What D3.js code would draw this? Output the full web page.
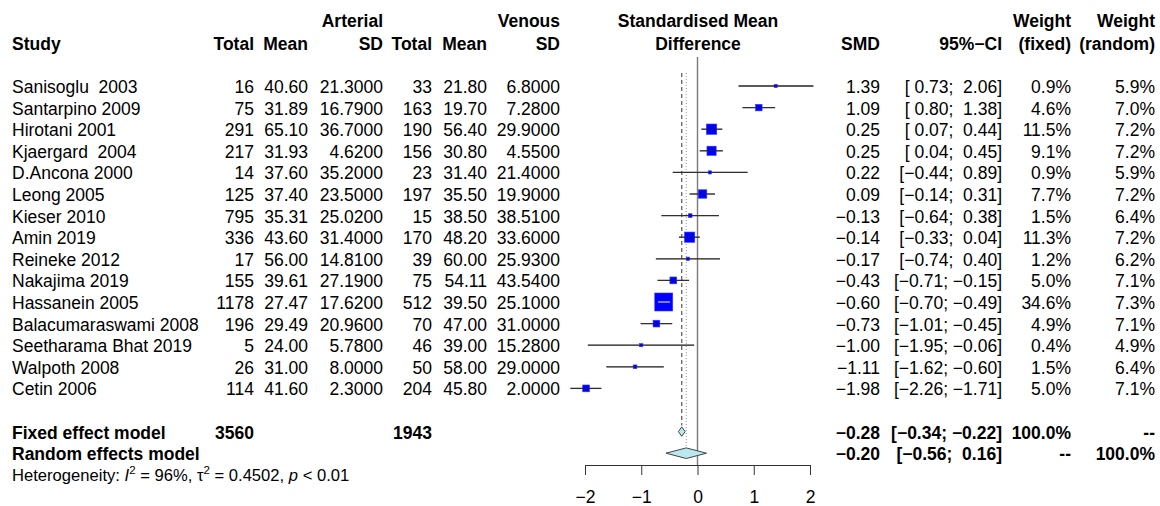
<!DOCTYPE html>
<html>
<head>
<meta charset="utf-8">
<title>Forest plot</title>
<script src="https://d3js.org/d3.v7.min.js"></script>
<style>
  body { margin: 0; background: #fff; }
  svg text { font-family: "Liberation Sans", Arial, sans-serif; font-size: 17.5px; fill: #000; white-space: pre; }
  .b { font-weight: bold; }
</style>
</head>
<body>
<div id="vis"></div>
<script>
const width = 1160, height = 506;

// study data
const studies = ["Sanisoglu  2003", "Santarpino 2009", "Hirotani 2001", "Kjaergard  2004", "D.Ancona 2000",
  "Leong 2005", "Kieser 2010", "Amin 2019", "Reineke 2012", "Nakajima 2019", "Hassanein 2005",
  "Balacumaraswami 2008", "Seetharama Bhat 2019", "Walpoth 2008", "Cetin 2006"];
const artTotal = [16, 75, 291, 217, 14, 125, 795, 336, 17, 155, 1178, 196, 5, 26, 114];
const artMean = [40.60, 31.89, 65.10, 31.93, 37.60, 37.40, 35.31, 43.60, 56.00, 39.61, 27.47, 29.49, 24.00, 31.00, 41.60];
const artSD = [21.3, 16.79, 36.7, 4.62, 35.2, 23.5, 25.02, 31.4, 14.81, 27.19, 17.62, 20.96, 5.78, 8.0, 2.3];
const venTotal = [33, 163, 190, 156, 23, 197, 15, 170, 39, 75, 512, 70, 46, 50, 204];
const venMean = [21.80, 19.70, 56.40, 30.80, 31.40, 35.50, 38.50, 48.20, 60.00, 54.11, 39.50, 47.00, 39.00, 58.00, 45.80];
const venSD = [6.8, 7.28, 29.9, 4.55, 21.4, 19.9, 38.51, 33.6, 25.93, 43.54, 25.1, 31.0, 15.28, 29.0, 2.0];
const smd = [1.39, 1.09, 0.25, 0.25, 0.22, 0.09, -0.13, -0.14, -0.17, -0.43, -0.60, -0.73, -1.00, -1.11, -1.98];
const lower = [0.73, 0.80, 0.07, 0.04, -0.44, -0.14, -0.64, -0.33, -0.74, -0.71, -0.70, -1.01, -1.95, -1.62, -2.26];
const upper = [2.06, 1.38, 0.44, 0.45, 0.89, 0.31, 0.38, 0.04, 0.40, -0.15, -0.49, -0.45, -0.06, -0.60, -1.71];
const wFixed = [0.9, 4.6, 11.5, 9.1, 0.9, 7.7, 1.5, 11.3, 1.2, 5.0, 34.6, 4.9, 0.4, 1.5, 5.0];
const wRandom = [5.9, 7.0, 7.2, 7.2, 5.9, 7.2, 6.4, 7.2, 6.2, 7.1, 7.3, 7.1, 4.9, 6.4, 7.1];

// pooled estimates
const fixedTotals = [3560, 1943];
const fixedEst = [-0.28, -0.34, -0.22];
const randomEst = [-0.20, -0.56, 0.16];
const axisTicks = [-2, -1, 0, 1, 2];

const svg = d3.select("#vis").append("svg")
  .attr("width", width).attr("height", height);

const x = d3.scaleLinear().domain([-2, 2]).range([585, 810]);
const rowY = i => 86 + 21.6 * i;
const yFixed = rowY(16), yRandom = rowY(17);

const num = (v, d) => (v < 0 ? "\u2212" : "") + Math.abs(v).toFixed(d);
const pad = (v) => (v < 0 ? "" : " ") + num(v, 2);
const ci = (l, u) => "[" + pad(l) + "; " + pad(u) + "]";

function txt(xp, yp, s, anchor, cls) {
  return svg.append("text").attr("x", xp).attr("y", yp)
    .attr("text-anchor", anchor || "start").attr("class", cls || null).text(s);
}

// header
txt(383, 27, "Arterial", "end", "b");
txt(560, 27, "Venous", "end", "b");
txt(698, 27, "Standardised Mean", "middle", "b");
txt(1071, 27, "Weight", "end", "b");
txt(1155, 27, "Weight", "end", "b");
const h2 = [["Study", 12, "start"], ["Total", 254, "end"], ["Mean", 308, "end"], ["SD", 383, "end"],
  ["Total", 432, "end"], ["Mean", 487, "end"], ["SD", 560, "end"], ["Difference", 698, "middle"],
  ["SMD", 880, "end"], ["95%\u2212CI", 1002, "end"], ["(fixed)", 1071, "end"], ["(random)", 1155, "end"]];
h2.forEach(h => txt(h[1], 50, h[0], h[2], "b"));

// reference lines
svg.append("line").attr("x1", x(0)).attr("x2", x(0)).attr("y1", 57).attr("y2", 465)
  .attr("stroke", "#7a7a7a").attr("stroke-width", 1.4);
svg.append("line").attr("x1", x(fixedEst[0])).attr("x2", x(fixedEst[0])).attr("y1", 73).attr("y2", yFixed - 6)
  .attr("stroke", "#555").attr("stroke-width", 1.2).attr("stroke-dasharray", "4,3");
svg.append("line").attr("x1", x(randomEst[0])).attr("x2", x(randomEst[0])).attr("y1", 73).attr("y2", yRandom - 5)
  .attr("stroke", "#999").attr("stroke-dasharray", "1,2");

// study rows
studies.forEach((s, i) => {
  const y = rowY(i), tb = y + 7;
  txt(12, tb, s);
  txt(254, tb, artTotal[i], "end");
  txt(308, tb, artMean[i].toFixed(2), "end");
  txt(383, tb, artSD[i].toFixed(4), "end");
  txt(432, tb, venTotal[i], "end");
  txt(487, tb, venMean[i].toFixed(2), "end");
  txt(560, tb, venSD[i].toFixed(4), "end");
  txt(880, tb, num(smd[i], 2), "end");
  txt(1002, tb, ci(lower[i], upper[i]), "end");
  txt(1071, tb, wFixed[i].toFixed(1) + "%", "end");
  txt(1155, tb, wRandom[i].toFixed(1) + "%", "end");

  const side = Math.max(3.2, 18 * Math.sqrt(wFixed[i] / 34.6));
  const inside = (x(upper[i]) - x(lower[i])) < side;
  if (!inside) {
    svg.append("line").attr("x1", x(lower[i])).attr("x2", x(upper[i])).attr("y1", y).attr("y2", y)
      .attr("stroke", "#444").attr("stroke-width", 1.3);
  }
  svg.append("rect").attr("x", x(smd[i]) - side / 2).attr("y", y - side / 2)
    .attr("width", side).attr("height", side)
    .attr("fill", "#0000ff").attr("stroke", "#3a3aff").attr("stroke-width", 0.6);
  svg.append("line").attr("x1", x(lower[i])).attr("x2", x(upper[i])).attr("y1", y).attr("y2", y)
    .attr("stroke", inside ? "#fff" : "#222").attr("stroke-width", 1)
    .attr("stroke-opacity", inside ? 1 : 0.6);
});

// pooled rows
txt(12, yFixed + 7, "Fixed effect model", "start", "b");
txt(254, yFixed + 7, fixedTotals[0], "end", "b");
txt(432, yFixed + 7, fixedTotals[1], "end", "b");
txt(880, yFixed + 7, num(fixedEst[0], 2), "end", "b");
txt(1002, yFixed + 7, ci(fixedEst[1], fixedEst[2]), "end", "b");
txt(1071, yFixed + 7, "100.0%", "end", "b");
txt(1155, yFixed + 7, "--", "end", "b");

txt(12, yRandom + 7, "Random effects model", "start", "b");
txt(880, yRandom + 7, num(randomEst[0], 2), "end", "b");
txt(1002, yRandom + 7, ci(randomEst[1], randomEst[2]), "end", "b");
txt(1071, yRandom + 7, "--", "end", "b");
txt(1155, yRandom + 7, "100.0%", "end", "b");

function diamond(est, y, h) {
  const pts = [[x(est[1]), y], [x(est[0]), y - h], [x(est[2]), y], [x(est[0]), y + h]];
  svg.append("polygon").attr("points", pts.map(p => p.join(",")).join(" "))
    .attr("fill", "#b8e9ef").attr("stroke", "#444").attr("stroke-width", 1);
}
diamond(fixedEst, yFixed, 4.7);
diamond(randomEst, yRandom, 5.3);

// heterogeneity
const het = svg.append("text").attr("x", 12).attr("y", 481).style("font-size", "16.6px");
het.append("tspan").text("Heterogeneity: ");
het.append("tspan").style("font-style", "italic").text("I");
het.append("tspan").attr("dy", -7).style("font-size", "11.5px").text("2");
het.append("tspan").attr("dy", 7).text(" = 96%, \u03c4");
het.append("tspan").attr("dy", -7).style("font-size", "11.5px").text("2");
het.append("tspan").attr("dy", 7).text(" = 0.4502, ");
het.append("tspan").style("font-style", "italic").text("p");
het.append("tspan").text(" < 0.01");

// axis
const axis = svg.append("g").attr("transform", "translate(0,465)")
  .call(d3.axisBottom(x).tickValues(axisTicks).tickSize(10).tickSizeOuter(0).tickPadding(16).tickFormat(d3.format("d")));
axis.selectAll("path, line").attr("stroke", "#333");
axis.selectAll("text").attr("font-family", null).attr("font-size", null);
</script>
</body>
</html>
